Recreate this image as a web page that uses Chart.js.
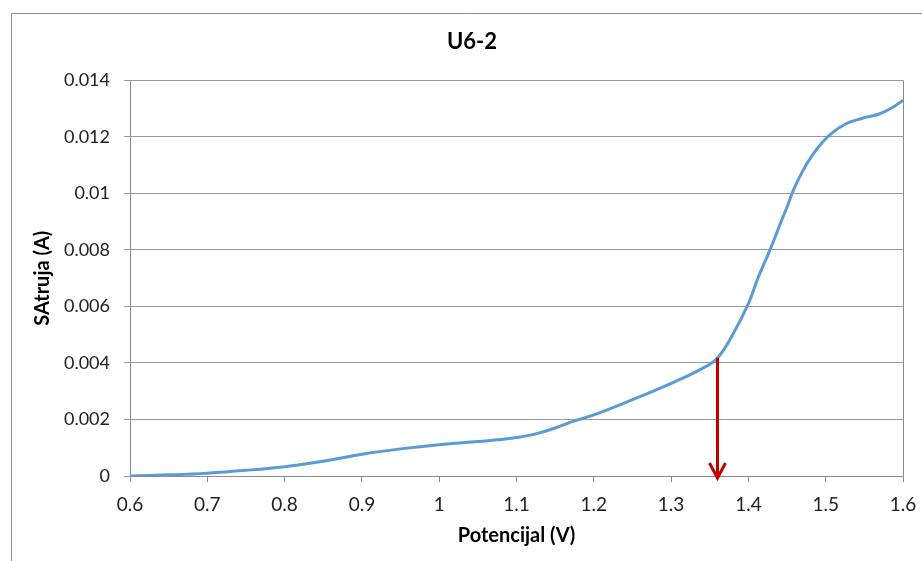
<!DOCTYPE html>
<html>
<head>
<meta charset="utf-8">
<script src="https://cdn.jsdelivr.net/npm/chart.js@4/dist/chart.umd.min.js"></script>
<style>
html,body{margin:0;padding:0;background:#fff;}
canvas{display:block;}
</style>
</head>
<body>
<canvas id="c" width="922" height="561"></canvas>
<script>
// potencijal (V) i struja (A), ocitano sa slike
const potential = [0.6, 0.65, 0.7, 0.75, 0.8, 0.85, 0.9, 0.95, 1.0, 1.05, 1.075, 1.1, 1.125, 1.15, 1.175, 1.2, 1.25,
  1.3, 1.34, 1.36, 1.38, 1.4, 1.413, 1.428, 1.443, 1.45, 1.458, 1.467, 1.475, 1.484, 1.493, 1.501, 1.51, 1.519,
  1.531, 1.553, 1.57, 1.587, 1.6];
const current = [0.0, 0.00004, 0.0001, 0.0002, 0.00033, 0.00052, 0.00077, 0.00096, 0.00111, 0.00122, 0.00128,
  0.00136, 0.00149, 0.0017, 0.00195, 0.00216, 0.0027, 0.00328, 0.0038, 0.00418, 0.00502, 0.0061, 0.00705, 0.008,
  0.00905, 0.00952, 0.0101, 0.01062, 0.01102, 0.0114, 0.01172, 0.01196, 0.01218, 0.01235, 0.01252, 0.0127, 0.01282,
  0.01305, 0.0133];

// strelica
const arrowX = [1.36];
const arrowY = [0.00418, 0];

const fontName = "Lato, 'Liberation Sans', sans-serif";

/* okvir grafikona */
const framePlugin = {
  id: "frame",
  beforeDraw(chart) {
    const c = chart.ctx;
    c.save();
    c.strokeStyle = "#8c8c8c";
    c.lineWidth = 1;
    c.beginPath();
    c.moveTo(11.5, 561);
    c.lineTo(11.5, 13.5);
    c.lineTo(922, 13.5);
    c.stroke();
    c.restore();
  },
  afterDraw(chart) {
    const a = chart.chartArea, c = chart.ctx;
    c.save();
    c.strokeStyle = "#8c8c8c";
    c.lineWidth = 1;
    c.beginPath();
    c.moveTo(Math.round(a.right) + 0.5, a.top);
    c.lineTo(Math.round(a.right) + 0.5, a.bottom);
    c.stroke();
    c.restore();
  }
};

/* crvena strelica */
const arrowPlugin = {
  id: "arrow",
  afterDatasetsDraw(chart) {
    const xs = chart.scales.x, ys = chart.scales.y, c = chart.ctx;
    const x = xs.getPixelForValue(arrowX[0]);
    const y1 = ys.getPixelForValue(arrowY[0]);
    const y2 = ys.getPixelForValue(arrowY[1]) + 2;
    c.save();
    c.strokeStyle = "#c00000";
    c.lineWidth = 3;
    c.lineCap = "butt";
    c.beginPath();
    c.moveTo(x, y1);
    c.lineTo(x, y2 - 2);
    c.stroke();
    c.beginPath();
    c.moveTo(x - 8, y2 - 15);
    c.lineTo(x, y2);
    c.lineTo(x + 8, y2 - 15);
    c.stroke();
    c.restore();
  }
};

new Chart(document.getElementById("c"), {
  type: "line",
  data: {
    datasets: [{
      label: "U6-2",
      data: potential.map((v, i) => ({x: v, y: current[i]})),
      borderColor: "#5b9bd5",
      borderWidth: 3,
      pointRadius: 0,
      tension: 0.4,
      fill: false
    }]
  },
  options: {
    responsive: false,
    animation: false,
    devicePixelRatio: 1,
    layout: {padding: {left: 22, right: 0, top: 0, bottom: 0}},
    plugins: {
      legend: {display: false},
      tooltip: {enabled: false},
      title: {
        display: true,
        text: "U6-2",
        color: "#000",
        font: {family: fontName, size: 22, weight: "bold"},
        padding: {top: 29, bottom: 25}
      }
    },
    scales: {
      x: {
        type: "linear",
        min: 0.6,
        max: 1.6,
        afterFit: s => { s.height = 85; s.paddingRight = 19; },
        ticks: {
          stepSize: 0.1,
          color: "#222",
          padding: 11,
          maxRotation: 0,
          font: {family: fontName, size: 19},
          callback: v => String(+v.toFixed(2))
        },
        grid: {drawOnChartArea: false, drawTicks: true, tickLength: 6, color: "#8c8c8c"},
        border: {color: "#8c8c8c"},
        title: {
          display: true,
          text: "Potencijal (V)",
          color: "#000",
          font: {family: fontName, size: 20, weight: "bold"},
          padding: {top: 0, bottom: 13}
        }
      },
      y: {
        min: 0,
        max: 0.014,
        afterFit: s => { s.width = 108; },
        ticks: {
          stepSize: 0.002,
          color: "#222",
          padding: 14,
          font: {family: fontName, size: 18},
          callback: v => String(+v.toFixed(3))
        },
        grid: {color: "#999", tickLength: 6, drawTicks: true},
        border: {color: "#8c8c8c"},
        title: {
          display: true,
          text: "SAtruja (A)",
          color: "#000",
          font: {family: fontName, size: 20, weight: "bold"},
          padding: {top: 9, bottom: 0}
        }
      }
    }
  },
  plugins: [framePlugin, arrowPlugin]
});
</script>
</body>
</html>
